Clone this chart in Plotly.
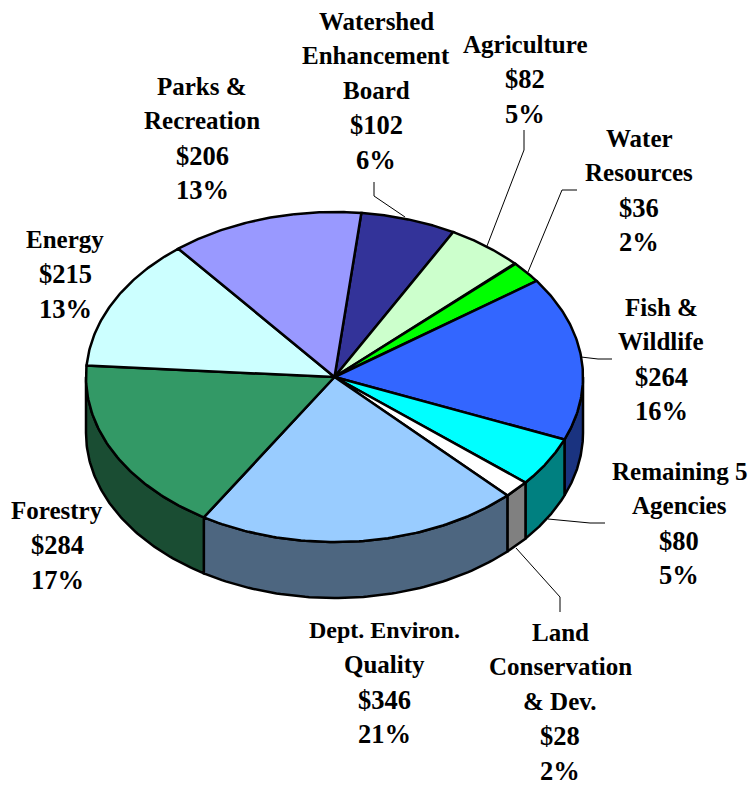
import numpy as np
import plotly.graph_objects as go

names = ["Watershed Enhancement Board", "Agriculture", "Water Resources", "Fish & Wildlife",
         "Remaining 5 Agencies", "Land Conservation & Dev.", "Dept. Environ. Quality",
         "Forestry", "Energy", "Parks & Recreation"]
values = [102, 82, 36, 264, 80, 28, 346, 284, 215, 206]
percents = [6, 5, 2, 16, 5, 2, 21, 17, 13, 13]
name_lines = [["Watershed", "Enhancement", "Board"], ["Agriculture"], ["Water", "Resources"],
              ["Fish &", "Wildlife"], ["Remaining 5", "Agencies"], ["Land", "Conservation", "& Dev."],
              ["Dept. Environ.", "Quality"], ["Forestry"], ["Energy"], ["Parks &", "Recreation"]]
top_colors = ["#333399", "#CCFFCC", "#00FF00", "#3366FF", "#00FFFF", "#FFFFFF", "#99CCFF", "#339966", "#CCFFFF", "#9999FF"]
side_colors = ["#1A1A4D", "#668066", "#008000", "#1A3380", "#008080", "#808080", "#4D6680", "#1A4D33", "#668080", "#4D4D80"]
label_x = [376, 525, 639, 661, 679, 560, 384, 57, 65, 202]
label_y = [21, 44, 138, 307, 471, 632, 630, 510, 239, 86]
leaders = [[(374, 182), (374, 196), (405, 217)],
           [(524, 130), (524, 150), (487, 246)],
           [(577, 190), (562, 190), (528, 272)],
           [(612, 359), (598, 359), (581, 357)],
           [(605, 523), (590, 523), (548, 519)],
           [(560, 612), (560, 597), (516, 548)]]

CX, CY, RX, RY, DEPTH, START = 334.5, 377, 248.5, 165, 56, 6.2
LINE_H, NAME_SIZE, VALUE_SIZE = 34.8, 25, 26.5


def ellipse(t, dy=0):
    r = np.radians(t)
    return CX + RX * np.sin(r), CY - RY * np.cos(r) + dy


fig = go.Figure()
edges = START + np.concatenate([[0], np.cumsum(values)]) / sum(values) * 360
for i in range(len(values)):
    a, b = edges[i], edges[i + 1]
    lo, hi = max(a, 90), min(b, 270)
    if lo < hi:
        t = np.linspace(lo, hi, 80)
        x1, y1 = ellipse(t)
        x2, y2 = ellipse(t[::-1], DEPTH)
        fig.add_trace(go.Scatter(x=np.r_[x1, x2, x1[0]], y=np.r_[y1, y2, y1[0]], mode="lines", fill="toself",
                                 fillcolor=side_colors[i], line=dict(color="black", width=2.5),
                                 hoverinfo="skip", showlegend=False))
for i in range(len(values)):
    t = np.linspace(edges[i], edges[i + 1], 80)
    x, y = ellipse(t)
    fig.add_trace(go.Scatter(x=np.r_[CX, x, CX], y=np.r_[CY, y, CY], mode="lines", fill="toself",
                             fillcolor=top_colors[i], line=dict(color="black", width=2.5),
                             hoverinfo="skip", showlegend=False))
for pts in leaders:
    fig.add_trace(go.Scatter(x=[p[0] for p in pts], y=[p[1] for p in pts], mode="lines",
                             line=dict(color="black", width=1), hoverinfo="skip", showlegend=False))

annotations = []
for i in range(len(values)):
    count = len(name_lines[i])
    lines = name_lines[i] + [f"${values[i]}", f"{percents[i]}%"]
    for j, text in enumerate(lines):
        size = NAME_SIZE if j < count else VALUE_SIZE
        if text == "Dept. Environ.":
            size = 24
        annotations.append(dict(x=label_x[i], y=label_y[i] + j * LINE_H, text=f"<b>{text}</b>", showarrow=False,
                                xanchor="center", yanchor="middle", xref="x", yref="y",
                                font=dict(family="Liberation Serif", size=size, color="black")))

fig.update_layout(width=749, height=788, margin=dict(l=0, r=0, t=0, b=0), paper_bgcolor="white",
                  plot_bgcolor="white", showlegend=False, annotations=annotations,
                  xaxis=dict(range=[0, 749], visible=False, fixedrange=True),
                  yaxis=dict(range=[788, 0], visible=False, fixedrange=True))
fig.write_html("out.html", config={"displayModeBar": False},
               post_script="document.body.style.margin='0';document.documentElement.style.overflow='hidden';")
